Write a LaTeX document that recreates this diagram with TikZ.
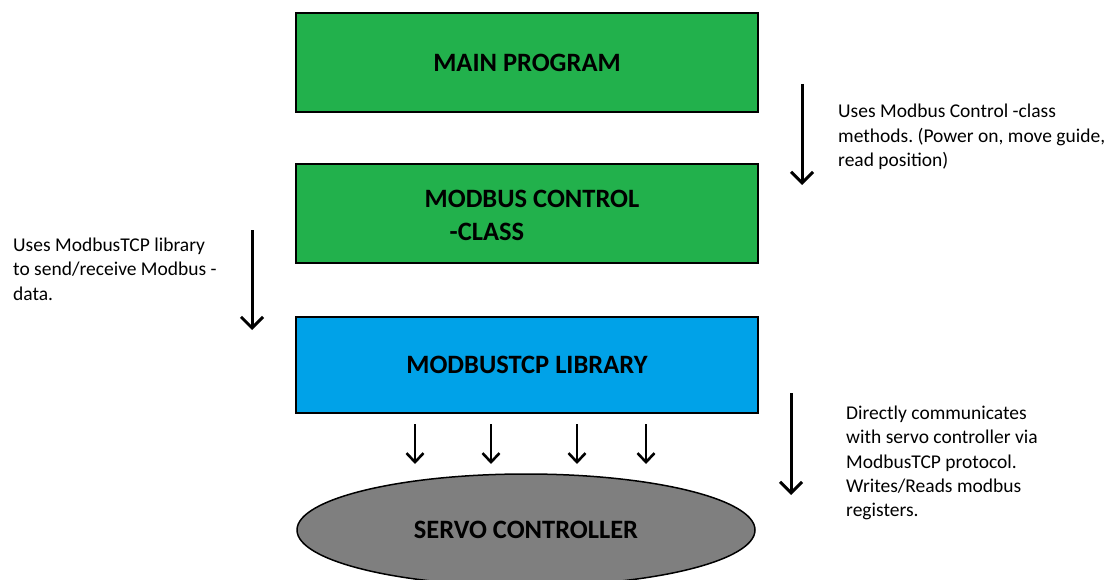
\documentclass[tikz,border=0pt]{standalone}
\usepackage{fontspec}
\setmainfont{Carlito}
\frenchspacing
\usetikzlibrary{arrows.meta,shapes.geometric}
\definecolor{boxgreen}{HTML}{22B14C}
\definecolor{boxblue}{HTML}{00A2E8}
\definecolor{servogray}{HTML}{7F7F7F}
\tikzset{
  layer/.style={draw=black, line width=2.5pt, minimum width=462pt, minimum height=99pt,
    font=\fontsize{26.5}{33}\selectfont\bfseries, inner sep=0pt},
  flow/.style={line width=3pt, -{Straight Barb[length=11pt,width=22pt,line width=3pt]}},
  flowsmall/.style={line width=2.6pt, -{Straight Barb[length=9pt,width=17pt,line width=2.6pt]}},
  note/.style={font=\fontsize{19.5}{24.4}\selectfont, align=left, inner sep=0pt, anchor=north west}
}
\begin{document}
\begin{tikzpicture}[x=1pt,y=-1pt]
  \useasboundingbox (0,0) rectangle (1110,580);
  \begin{scope}
    \clip (0,0) rectangle (1110,580);
    % layers of the software stack
    \node[layer, fill=boxgreen] (main) at (527,62.5) {MAIN PROGRAM};
    \node[layer, fill=boxgreen] (ctrl) at (527,213.5) {};
    \node[align=left, inner sep=0pt, font=\fontsize{26.5}{33}\selectfont\bfseries]
      (ctrltext) at (532,215.5) {MODBUS CONTROL\\\hspace{25pt}-CLASS};
    \node[layer, fill=boxblue, minimum height=96pt] (lib) at (527,365) {MODBUSTCP LIBRARY};
    \node[ellipse, draw=black, line width=1.5pt, fill=servogray, minimum width=458pt,
      minimum height=112pt, inner sep=0pt, font=\fontsize{26.5}{30}\selectfont\bfseries]
      (servo) at (526,530) {SERVO CONTROLLER};

    % side arrows with explanations
    \coordinate (a1s) at (802,84);  \coordinate (a1e) at (802,185);
    \coordinate (a2s) at (252,230); \coordinate (a2e) at (252,330);
    \coordinate (a3s) at (791,393); \coordinate (a3e) at (791,495);
    \draw[flow] (a1s) -- (a1e);
    \draw[flow] (a2s) -- (a2e);
    \draw[flow] (a3s) -- (a3e);

    \node[note] (n1) at (838,104) {Uses Modbus Control -class\\methods. (Power on, move guide,\\read position)};
    \node[note] (n2) at (13,237.5) {Uses ModbusTCP library\\to send/receive Modbus -\\data.};
    \node[note] (n3) at (846,405.5) {Directly communicates\\with servo controller via\\ModbusTCP protocol.\\Writes/Reads modbus\\registers.};

    % traffic between library and controller
    \foreach \x/\n in {415/b1,491/b2,577/b3,646/b4}{
      \coordinate (\n s) at (\x,424);
      \coordinate (\n e) at (\x,464);
      \draw[flowsmall] (\n s) -- (\n e);
    }
  \end{scope}
\end{tikzpicture}
\end{document}
